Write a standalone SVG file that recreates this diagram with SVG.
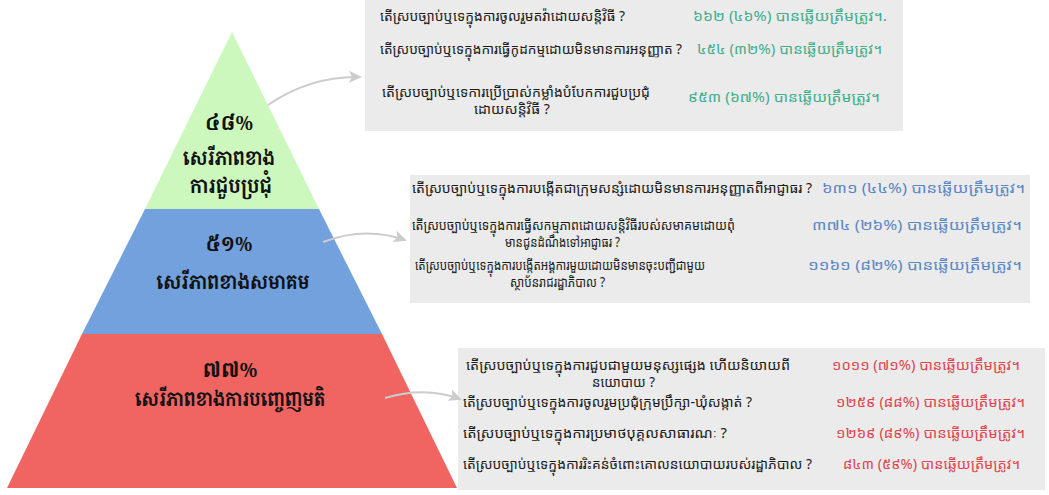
<svg xmlns="http://www.w3.org/2000/svg" width="1049" height="495" viewBox="0 0 1049 495">
<style>
.q{font-family:"Noto Sans Khmer","Noto Serif Khmer","Khmer OS","DejaVu Sans",sans-serif;font-size:13.5px;fill:#1a1a1a}
.a1{font-family:"Noto Sans Khmer","Noto Serif Khmer","Khmer OS","DejaVu Sans",sans-serif;font-size:13.5px;fill:#3fae8c}
.a2{font-family:"Noto Sans Khmer","Noto Serif Khmer","Khmer OS","DejaVu Sans",sans-serif;font-size:13.5px;fill:#5a87c5}
.a3{font-family:"Noto Sans Khmer","Noto Serif Khmer","Khmer OS","DejaVu Sans",sans-serif;font-size:13.5px;fill:#e0444c}
.big{font-family:"Noto Serif Khmer","Noto Sans Khmer","Khmer OS","DejaVu Serif",serif;font-size:20px;font-weight:bold;fill:#111;text-anchor:middle}
.box{fill:#ebebeb}
.conn{fill:none;stroke:#cccccc;stroke-width:2}
</style>
<defs>
<marker id="ah" markerWidth="14" markerHeight="14" refX="11" refY="7" orient="auto" markerUnits="userSpaceOnUse">
<path d="M0,1 L13,7 L0,13 L3,7 Z" fill="#cccccc"/>
</marker>
</defs>
<g id="level-top">
<polygon points="232,32 319,209 145,209" fill="#ccf7bd"/>
<text class="big" x="229" y="130" textLength="48" lengthAdjust="spacingAndGlyphs">៤៨%</text>
<text class="big" x="229" y="165" textLength="92" lengthAdjust="spacingAndGlyphs">សេរីភាពខាង</text>
<text class="big" x="231" y="193" textLength="82" lengthAdjust="spacingAndGlyphs">ការជួបប្រជុំ</text>
</g>
<g id="level-middle">
<polygon points="145,209 319,209 382,334 82,334" fill="#72a1de"/>
<text class="big" x="229" y="251" textLength="47" lengthAdjust="spacingAndGlyphs">៥១%</text>
<text class="big" x="233" y="289" textLength="153" lengthAdjust="spacingAndGlyphs">សេរីភាពខាងសមាគម</text>
</g>
<g id="level-bottom">
<polygon points="82,334 382,334 457,488 7,488" fill="#f06461"/>
<text class="big" x="230" y="377" textLength="55" lengthAdjust="spacingAndGlyphs">៧៧%</text>
<text class="big" x="230" y="406" textLength="190" lengthAdjust="spacingAndGlyphs">សេរីភាពខាងការបញ្ចេញមតិ</text>
</g>
<g id="box-assembly">
<rect class="box" x="365" y="0" width="538" height="131"/>
<text class="q" x="380" y="21" textLength="245" lengthAdjust="spacingAndGlyphs">តើស្របច្បាប់ឬទេក្នុងការចូលរួមតវ៉ាដោយសន្តិវិធី ?</text>
<text class="a1" x="693" y="21" textLength="194" lengthAdjust="spacingAndGlyphs">៦៦២ (៤៦%) បានឆ្លើយត្រឹមត្រូវ។.</text>
<text class="q" x="380" y="54" textLength="302" lengthAdjust="spacingAndGlyphs">តើស្របច្បាប់ឬទេក្នុងការធ្វើកូដកម្មដោយមិនមានការអនុញ្ញាត ?</text>
<text class="a1" x="697" y="54" textLength="185" lengthAdjust="spacingAndGlyphs">៤៥៤ (៣២%) បានឆ្លើយត្រឹមត្រូវ។</text>
<text class="q" x="382" y="97" textLength="268" lengthAdjust="spacingAndGlyphs">តើស្របច្បាប់ឬទេការប្រើប្រាស់កម្លាំងបំបែកការជួបប្រជុំ</text>
<text class="q" x="474" y="114" textLength="76" lengthAdjust="spacingAndGlyphs">ដោយសន្តិវិធី ?</text>
<text class="a1" x="688" y="102" textLength="192" lengthAdjust="spacingAndGlyphs">៩៥៣ (៦៧%) បានឆ្លើយត្រឹមត្រូវ។</text>
</g>
<g id="box-association">
<rect class="box" x="410" y="175" width="620" height="128"/>
<text class="q" x="412" y="193" textLength="400" lengthAdjust="spacingAndGlyphs">តើស្របច្បាប់ឬទេក្នុងការបង្កើតជាក្រុមសន្សំដោយមិនមានការអនុញ្ញាតពីអាជ្ញាធរ ?</text>
<text class="a2" x="822" y="193" textLength="203" lengthAdjust="spacingAndGlyphs">៦៣១ (៤៤%) បានឆ្លើយត្រឹមត្រូវ។</text>
<text class="q" x="412" y="230" textLength="323" lengthAdjust="spacingAndGlyphs">តើស្របច្បាប់ឬទេក្នុងការធ្វើសកម្មភាពដោយសន្តិវិធីរបស់សមាគមដោយពុំ</text>
<text class="q" x="505" y="247" textLength="115" lengthAdjust="spacingAndGlyphs">មានជូនដំណឹងទៅអាជ្ញាធរ ?</text>
<text class="a2" x="812" y="230" textLength="210" lengthAdjust="spacingAndGlyphs">៣៧៤ (២៦%) បានឆ្លើយត្រឹមត្រូវ។</text>
<text class="q" x="415" y="270" textLength="290" lengthAdjust="spacingAndGlyphs">តើស្របច្បាប់ឬទេក្នុងការបង្កើតអង្គការមួយដោយមិនមានចុះបញ្ជីជាមួយ</text>
<text class="q" x="510" y="287" textLength="95" lengthAdjust="spacingAndGlyphs">ស្ថាប័នរាជរដ្ឋាភិបាល ?</text>
<text class="a2" x="808" y="270" textLength="214" lengthAdjust="spacingAndGlyphs">១១៦១ (៨២%) បានឆ្លើយត្រឹមត្រូវ។</text>
</g>
<g id="box-expression">
<rect class="box" x="458" y="348" width="587" height="142"/>
<text class="q" x="466" y="370" textLength="324" lengthAdjust="spacingAndGlyphs">តើស្របច្បាប់ឬទេក្នុងការជួបជាមួយមនុស្សផ្សេង ហើយនិយាយពី</text>
<text class="q" x="592" y="387" textLength="63" lengthAdjust="spacingAndGlyphs">នយោបាយ ?</text>
<text class="a3" x="832" y="370" textLength="188" lengthAdjust="spacingAndGlyphs">១០១១ (៧១%) បានឆ្លើយត្រឹមត្រូវ។</text>
<text class="q" x="463" y="407" textLength="289" lengthAdjust="spacingAndGlyphs">តើស្របច្បាប់ឬទេក្នុងការចូលរួមប្រជុំក្រុមប្រឹក្សា-ឃុំសង្កាត់ ?</text>
<text class="a3" x="836" y="407" textLength="189" lengthAdjust="spacingAndGlyphs">១២៥៩ (៨៨%) បានឆ្លើយត្រឹមត្រូវ។</text>
<text class="q" x="463" y="438" textLength="264" lengthAdjust="spacingAndGlyphs">តើស្របច្បាប់ឬទេក្នុងការប្រមាថបុគ្គលសាធារណៈ ?</text>
<text class="a3" x="836" y="438" textLength="189" lengthAdjust="spacingAndGlyphs">១២៦៩ (៨៩%) បានឆ្លើយត្រឹមត្រូវ។</text>
<text class="q" x="463" y="469" textLength="349" lengthAdjust="spacingAndGlyphs">តើស្របច្បាប់ឬទេក្នុងការរិះគន់ចំពោះគោលនយោបាយរបស់រដ្ឋាភិបាល ?</text>
<text class="a3" x="843" y="469" textLength="177" lengthAdjust="spacingAndGlyphs">៨៤៣ (៥៩%) បានឆ្លើយត្រឹមត្រូវ។</text>
</g>
<g id="connectors">
<path class="conn" d="M268,105 Q310,76 360,77" marker-end="url(#ah)"/>
<path class="conn" d="M323,242 Q365,226 405,240" marker-end="url(#ah)"/>
<path class="conn" d="M385,398 Q425,386 460,399" marker-end="url(#ah)"/>
</g>
</svg>
